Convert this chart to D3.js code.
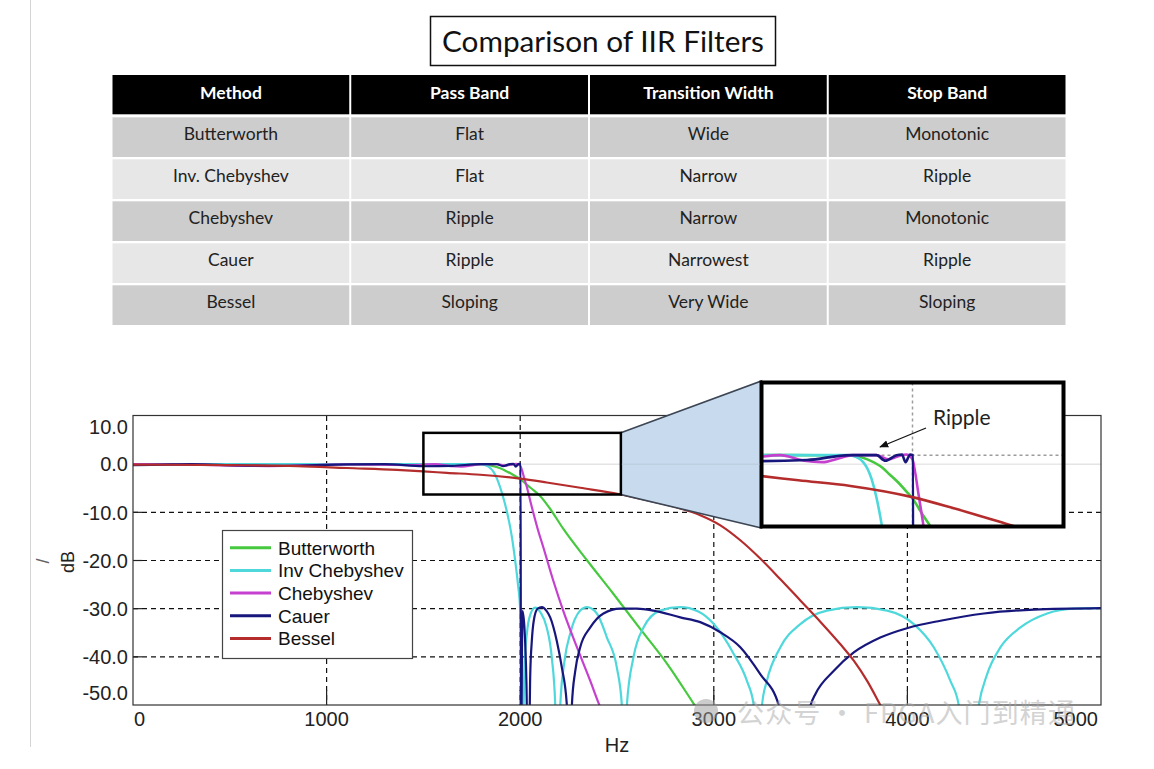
<!DOCTYPE html>
<html><head><meta charset="utf-8">
<script src="https://cdn.jsdelivr.net/npm/d3@7"></script>
<style>body{margin:0;background:#fff}svg{display:block}</style>
</head><body><svg id="c" width="1154" height="769"></svg>
<script>
// ---------- DATA ----------
const tableColumns = ["Method", "Pass Band", "Transition Width", "Stop Band"];
const tableMethods = ["Butterworth", "Inv. Chebyshev", "Chebyshev", "Cauer", "Bessel"];
const tablePassBand = ["Flat", "Flat", "Ripple", "Ripple", "Sloping"];
const tableTransition = ["Wide", "Narrow", "Narrow", "Narrowest", "Very Wide"];
const tableStopBand = ["Monotonic", "Ripple", "Monotonic", "Ripple", "Sloping"];

const xTicks = [0, 1000, 2000, 3000, 4000, 5000];
const yTicks = [10, 0, -10, -20, -30, -40, -50];
const seriesNames = ["Butterworth", "Inv Chebyshev", "Chebyshev", "Cauer", "Bessel"];

// [Hz, dB]
const butterworth = [[0,0],[1000,0],[1600,0],[1800,-0.02],[1850,-0.3],[1900,-0.9],[1925,-1.4],[1950,-1.9],[1980,-2.6],[2000,-3.1],[2035,-4.3],[2060,-5.1],[2103,-6.6],[2150,-9.0],[2222,-13.4],[2346,-20],[2481,-26.9],[2620,-34.2],[2760,-41.5],[2894,-49.6],[2950,-53]];
const invChebyshev = [[0,0],[1000,0],[1500,0],[1780,0],[1800,-0.05],[1836,-0.5],[1864,-1.7],[1881,-3.1],[1898,-5],[1915,-7.3],[1931,-9.8],[1957,-15.1],[1974,-20],[1988,-24.8],[2000,-30.4],[2006,-38],[2012,-60],[2022,-42],[2035,-35],[2050,-31.5],[2077,-29.8],[2105,-30.8],[2137,-33.9],[2163,-40.1],[2181,-50],[2194,-70],[2207,-50],[2230,-40.5],[2258,-35.2],[2310,-30.4],[2345,-29.7],[2396,-31],[2448,-36],[2499,-42.2],[2525,-50],[2538,-70],[2551,-50],[2585,-40.1],[2637,-33.9],[2723,-30.4],[2827,-29.7],[2920,-30.6],[3000,-33.2],[3103,-39.4],[3171,-45],[3206,-50],[3228,-70],[3249,-50],[3274,-45],[3344,-38],[3447,-33.2],[3585,-30.4],[3740,-29.7],[3895,-30.4],[4033,-33.2],[4136,-38],[4222,-45],[4265,-50],[4317,-70],[4369,-50],[4412,-43.6],[4481,-38],[4584,-33.9],[4722,-31],[4860,-30],[5000,-29.9]];
const chebyshev = [[0,0],[300,-0.1],[700,-0.4],[1100,-0.05],[1450,-0.2],[1560,0],[1640,-0.4],[1700,-0.5],[1760,-0.2],[1800,0],[1880,0],[1920,-0.3],[1950,-0.1],[1980,0.05],[2000,-0.3],[2009,-1.25],[2020,-2.8],[2034,-4.7],[2050,-7.3],[2067,-10],[2090,-13.4],[2119,-17.2],[2171,-24.2],[2222,-30.4],[2293,-38],[2362,-45],[2404,-49.5],[2440,-53]];
const cauer = [[0,-0.2],[150,-0.1],[300,0],[550,-0.25],[800,-0.35],[1050,-0.1],[1300,0],[1500,-0.43],[1650,-0.35],[1792,0],[1880,0],[1910,-0.4],[1947,0],[1965,0.05],[1977,-0.5],[1992,0.05],[2002,0],[2004,-60],[2012,-30.5],[2022,-34],[2032,-45],[2042,-70],[2052,-43.5],[2060,-36.7],[2070,-32.5],[2090,-30],[2112,-29.7],[2135,-30.4],[2155,-31.8],[2189,-36.7],[2215,-42.2],[2241,-50],[2254,-70],[2267,-50],[2284,-43],[2310,-38],[2362,-33.9],[2430,-31],[2517,-30],[2603,-30],[2688,-30.4],[2827,-31.8],[2930,-32.8],[3034,-34.9],[3137,-38],[3240,-43.6],[3335,-50],[3418,-70],[3500,-50],[3525,-47.7],[3620,-42.9],[3723,-39.1],[3860,-36],[4002,-34],[4171,-32.5],[4395,-31],[4653,-30.2],[5000,-29.9]];
const bessel = [[0,-0.1],[500,-0.2],[850,-0.4],[1104,-0.8],[1363,-1.2],[1500,-1.5],[1621,-1.8],[1794,-2.2],[2000,-3.0],[2137,-3.8],[2310,-4.9],[2508,-6.2],[2655,-7.5],[2827,-9.2],[2930,-10.6],[3034,-12.7],[3137,-15.8],[3240,-19.6],[3344,-23.9],[3447,-28.3],[3550,-32.7],[3654,-37.4],[3723,-40.8],[3792,-45],[3860,-50],[3900,-53]];

const zoomHz = [1500, 2520];
const zoomDb = [-6.3, 6.5];
const insetHz = [1500, 2500];
const insetDb = [-5.1, 5.3];

// ---------- STYLE ----------
const colors = ["#46c93f", "#4fd8dc", "#c640cf", "#16167c", "#b42c2c"];
const seriesData = [butterworth, invChebyshev, chebyshev, cauer, bessel];
const drawOrder = [0, 1, 2, 3, 4];

const svg = d3.select("#c");
svg.append("rect").attr("width", 1154).attr("height", 769).attr("fill", "#fff");
svg.append("line").attr("x1", 30.5).attr("x2", 30.5).attr("y1", 0).attr("y2", 747)
  .attr("stroke", "#d4d4d4").attr("stroke-width", 1);

// ---------- TITLE ----------
svg.append("rect").attr("x", 430.5).attr("y", 16.5).attr("width", 345).attr("height", 49)
  .attr("fill", "#fff").attr("stroke", "#111").attr("stroke-width", 1.5);
svg.append("text").attr("x", 603).attr("y", 51.5).attr("text-anchor", "middle")
  .attr("font-family", "Lato, 'Open Sans', sans-serif").attr("font-size", 28).attr("fill", "#111")
  .attr("textLength", 322).attr("lengthAdjust", "spacingAndGlyphs")
  .text("Comparison of IIR Filters");

// ---------- TABLE ----------
const tX0 = 112.5, colW = 238.75;
const rowsData = tableMethods.map((m, i) => [m, tablePassBand[i], tableTransition[i], tableStopBand[i]]);
const tbl = svg.append("g");
tableColumns.forEach((h, c) => {
  tbl.append("rect").attr("x", tX0 + c * colW).attr("y", 75).attr("width", colW - 2).attr("height", 39.3).attr("fill", "#000");
  tbl.append("text").attr("x", tX0 + c * colW + (colW - 2) / 2).attr("y", 98.5).attr("text-anchor", "middle")
    .attr("font-family", "Lato, sans-serif").attr("font-weight", "bold").attr("font-size", 17.5).attr("fill", "#fff").text(h);
});
rowsData.forEach((row, r) => {
  const y0 = 117.3 + r * 42;
  row.forEach((v, c) => {
    tbl.append("rect").attr("x", tX0 + c * colW).attr("y", y0).attr("width", colW - 2).attr("height", 39.7)
      .attr("fill", r % 2 === 0 ? "#cdcdcd" : "#e7e7e7");
    tbl.append("text").attr("x", tX0 + c * colW + (colW - 2) / 2).attr("y", y0 + 22.5).attr("text-anchor", "middle")
      .attr("font-family", "Lato, sans-serif").attr("font-size", 17.5).attr("fill", "#222").text(v);
  });
});

// ---------- CHART ----------
const L = 133, R = 1101, T = 416, B = 705;
const x = d3.scaleLinear().domain([0, 5000]).range([L, R]);
const y = d3.scaleLinear().domain([-50, 10]).range([B, T]);
const font = "'Liberation Sans', Arial, sans-serif";

const defs = svg.append("defs");
defs.append("clipPath").attr("id", "plotClip").append("rect").attr("x", L).attr("y", T).attr("width", R - L).attr("height", B - T);
defs.append("marker").attr("id", "arrow").attr("viewBox", "0 0 10 10").attr("refX", 9).attr("refY", 5)
  .attr("markerWidth", 7).attr("markerHeight", 7).attr("orient", "auto")
  .append("path").attr("d", "M0,1 L10,5 L0,9 z").attr("fill", "#111");

// faint zero line
svg.append("line").attr("x1", L).attr("x2", R).attr("y1", y(0)).attr("y2", y(0)).attr("stroke", "#d6d6d6").attr("stroke-width", 1);

// grid
const grid = svg.append("g").attr("stroke", "#111").attr("stroke-width", 1.2).attr("stroke-dasharray", "5,4");
xTicks.filter(v => v > 0 && v < 5000).forEach(v => {
  grid.append("line").attr("x1", x(v)).attr("x2", x(v)).attr("y1", T).attr("y2", B);
});
yTicks.filter(v => v < 0 && v > -50).forEach(v => {
  grid.append("line").attr("x1", L).attr("x2", R).attr("y1", y(v)).attr("y2", y(v));
});
// tick marks
const tk = svg.append("g").attr("stroke", "#222").attr("stroke-width", 1.2);
xTicks.filter(v => v > 0 && v < 5000).forEach(v => tk.append("line").attr("x1", x(v)).attr("x2", x(v)).attr("y1", B).attr("y2", B - 15));
yTicks.filter(v => v < 0 && v > -50).forEach(v => tk.append("line").attr("x1", L).attr("x2", L + 9).attr("y1", y(v)).attr("y2", y(v)));

// curves
const line = d3.line().x(d => x(d[0])).y(d => y(d[1])).curve(d3.curveMonotoneX);
const curves = svg.append("g").attr("clip-path", "url(#plotClip)");
drawOrder.forEach(i => {
  curves.append("path").attr("d", line(seriesData[i])).attr("fill", "none")
    .attr("stroke", colors[i]).attr("stroke-width", 2.2).attr("stroke-linejoin", "round");
});

// frame
svg.append("rect").attr("x", L).attr("y", T - 0.5).attr("width", R - L).attr("height", B - T + 0.5)
  .attr("fill", "none").attr("stroke", "#333").attr("stroke-width", 1.2);

// axis labels
const yl = svg.append("g").attr("font-family", font).attr("font-size", 20).attr("fill", "#222");
yTicks.forEach(v => {
  let py = y(v);
  py = Math.max(py, T + 11); py = Math.min(py, B - 12);
  yl.append("text").attr("x", 128).attr("y", py).attr("dy", "0.36em").attr("text-anchor", "end").text(v.toFixed(1));
});
xTicks.forEach((v, i) => {
  const anchor = i === 0 ? "start" : (i === xTicks.length - 1 ? "end" : "middle");
  const px = i === 0 ? x(v) + 1 : (i === xTicks.length - 1 ? x(v) - 3 : x(v));
  yl.append("text").attr("x", px).attr("y", 719).attr("dy", "0.36em").attr("text-anchor", anchor).text(v);
});
yl.append("text").attr("x", 617).attr("y", 745).attr("dy", "0.36em").attr("text-anchor", "middle").text("Hz");
svg.append("text").attr("transform", "translate(74,562) rotate(-90)").attr("text-anchor", "middle")
  .attr("font-family", font).attr("font-size", 18).attr("fill", "#222").text("dB");
svg.append("text").attr("transform", "translate(49,561) rotate(-90)").attr("text-anchor", "middle")
  .attr("font-family", font).attr("font-size", 18).attr("fill", "#666").text("/");

// legend
const lg = svg.append("g");
lg.append("rect").attr("x", 222.5).attr("y", 530.5).attr("width", 190).attr("height", 128)
  .attr("fill", "#fff").attr("stroke", "#444").attr("stroke-width", 1.2);
seriesNames.forEach((n, i) => {
  const cy = 547.7 + i * 22.7;
  lg.append("line").attr("x1", 230).attr("x2", 271).attr("y1", cy).attr("y2", cy).attr("stroke", colors[i]).attr("stroke-width", 3);
  lg.append("text").attr("x", 278).attr("y", cy).attr("dy", "0.36em").attr("font-family", font)
    .attr("font-size", 19).attr("fill", "#111").text(n);
});

// zoom box + trapezoid
const bx0 = x(zoomHz[0]), bx1 = x(zoomHz[1]), by0 = y(zoomDb[1]), by1 = y(zoomDb[0]);
const IL = 761.5, IT = 382.5, IW = 302, IH = 144;
svg.append("polygon").attr("points", [[bx1, by0], [IL, IT - 1.5], [IL, IT + IH + 1.5], [bx1, by1]].map(p => p.join(",")).join(" "))
  .attr("fill", "#c8dbee").attr("stroke", "#3c4654").attr("stroke-width", 1.6);
svg.append("rect").attr("x", bx0).attr("y", by0).attr("width", bx1 - bx0).attr("height", by1 - by0)
  .attr("fill", "none").attr("stroke", "#000").attr("stroke-width", 2.5);

// inset
const xi = d3.scaleLinear().domain(insetHz).range([IL + 0.5, IL + IW - 0.5]);
const yi = d3.scaleLinear().domain(insetDb).range([IT + IH, IT - 1.5]);
defs.append("clipPath").attr("id", "insetClip").append("rect").attr("x", IL + 1).attr("y", IT + 1).attr("width", IW - 2).attr("height", IH - 2);
svg.append("rect").attr("x", IL).attr("y", IT).attr("width", IW).attr("height", IH).attr("fill", "#fff");
const ig = svg.append("g").attr("clip-path", "url(#insetClip)");
ig.append("line").attr("x1", IL).attr("x2", IL + IW).attr("y1", y(0)).attr("y2", y(0)).attr("stroke", "#dcdcdc").attr("stroke-width", 1);
ig.append("line").attr("x1", IL).attr("x2", IL + IW).attr("y1", yi(0)).attr("y2", yi(0))
  .attr("stroke", "#9c9c9c").attr("stroke-width", 1.5).attr("stroke-dasharray", "3,3");
ig.append("line").attr("x1", xi(2000)).attr("x2", xi(2000)).attr("y1", IT).attr("y2", IT + IH)
  .attr("stroke", "#9c9c9c").attr("stroke-width", 1.5).attr("stroke-dasharray", "3,3");
const iline = d3.line().x(d => xi(d[0])).y(d => yi(d[1])).curve(d3.curveMonotoneX);
drawOrder.forEach(i => {
  ig.append("path").attr("d", iline(seriesData[i])).attr("fill", "none")
    .attr("stroke", colors[i]).attr("stroke-width", 2.6).attr("stroke-linejoin", "round");
});
svg.append("rect").attr("x", IL).attr("y", IT).attr("width", IW).attr("height", IH)
  .attr("fill", "none").attr("stroke", "#000").attr("stroke-width", 4);
// faint zero line passing through trapezoid
svg.append("line").attr("x1", bx1 + 1).attr("x2", IL - 2).attr("y1", y(0)).attr("y2", y(0)).attr("stroke", "#b9c9d8").attr("stroke-width", 1);

// Ripple annotation
svg.append("text").attr("x", 933).attr("y", 425).attr("font-family", "Lato, sans-serif").attr("font-size", 21)
  .attr("fill", "#222").text("Ripple");
svg.append("line").attr("x1", 926).attr("y1", 428).attr("x2", 880).attr("y2", 447)
  .attr("stroke", "#111").attr("stroke-width", 1.3).attr("marker-end", "url(#arrow)");

// watermark
const wm = svg.append("g").attr("opacity", 0.5);
wm.append("circle").attr("cx", 706).attr("cy", 711).attr("r", 12).attr("fill", "#9a9a9a");
wm.append("text").attr("x", 737).attr("y", 713).attr("dy", "0.36em").attr("font-family", "'Noto Sans CJK SC', sans-serif")
  .attr("font-size", 27).attr("fill", "#a8a8a8").attr("textLength", 338).attr("lengthAdjust", "spacing")
  .text("公众号 · FPGA入门到精通");
</script></body></html>
